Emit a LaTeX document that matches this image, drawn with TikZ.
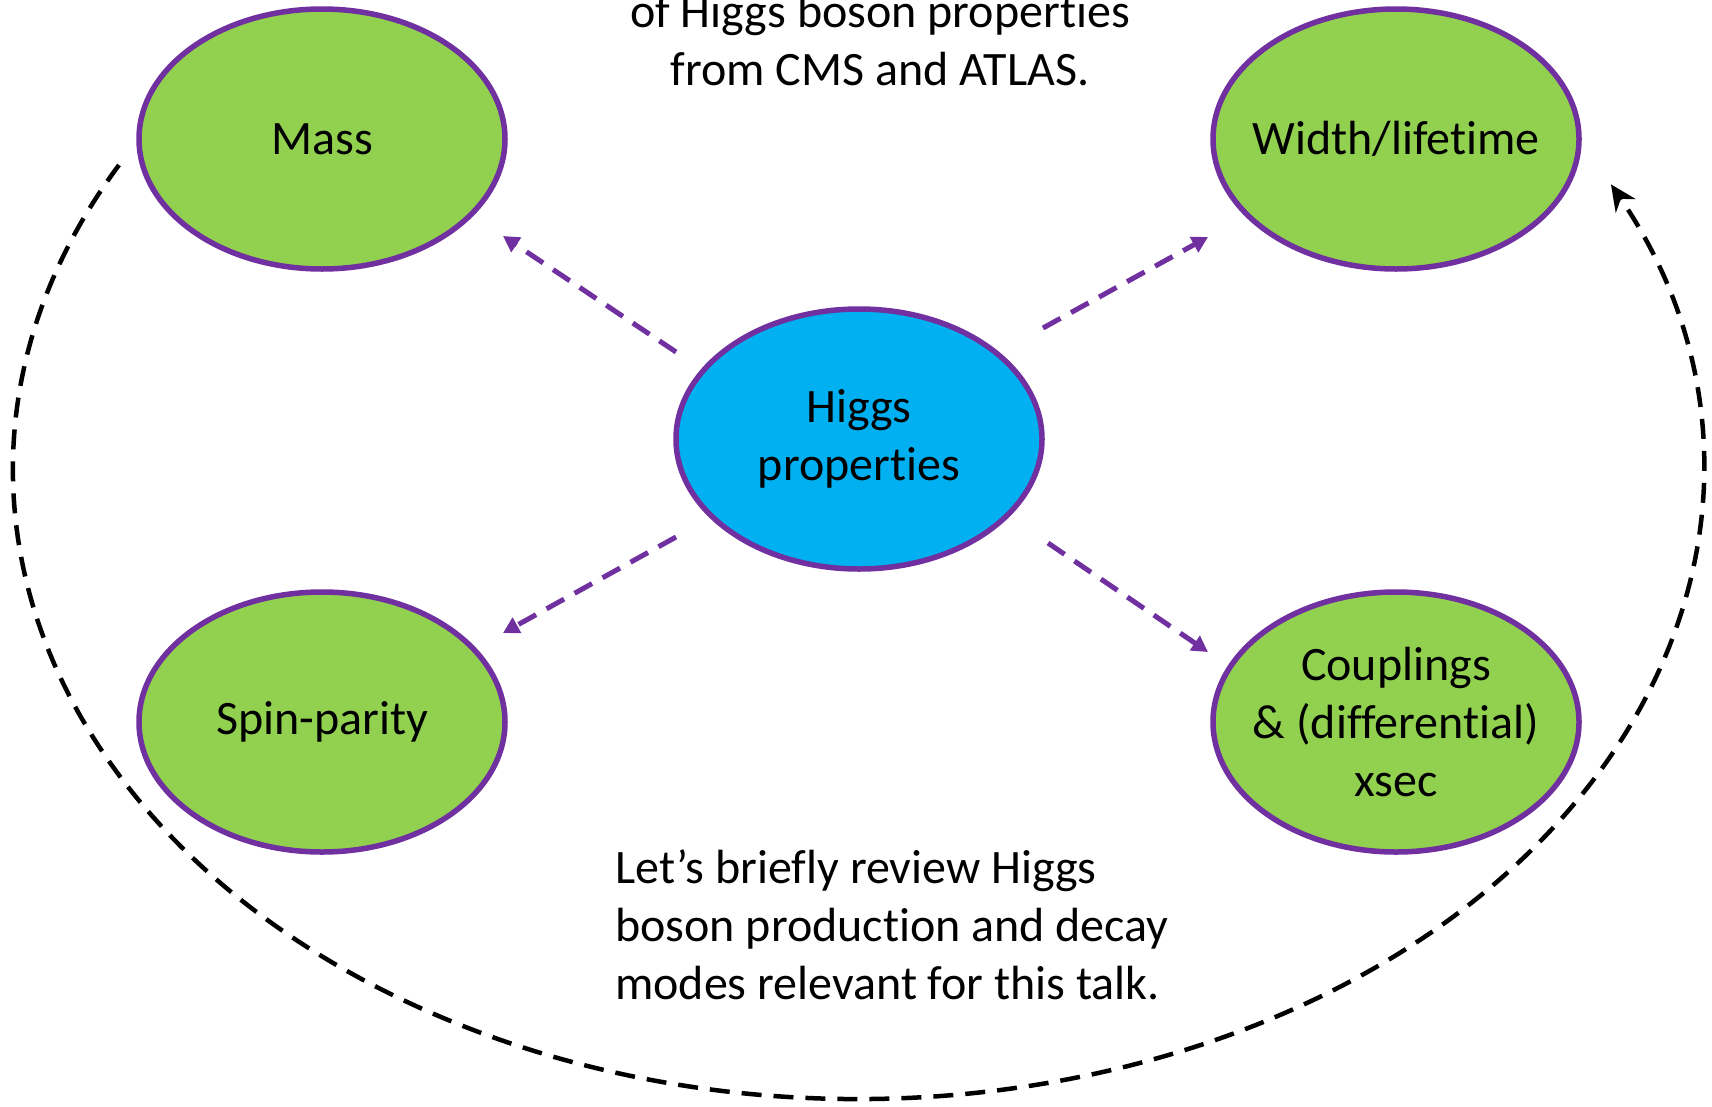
\documentclass[tikz,border=0pt]{standalone}
\usepackage{fontspec}
\setmainfont{Carlito}[RawFeature={-liga;-clig;-calt;-dlig}]
\usetikzlibrary{shapes.geometric,arrows.meta}
\definecolor{purp}{HTML}{7030A0}
\definecolor{grn}{HTML}{92D050}
\definecolor{blu}{HTML}{00B0F0}
\begin{document}
\begin{tikzpicture}[x=1pt,y=-1pt,
  prop/.style={ellipse,draw=purp,line width=5.5pt,minimum width=366pt,minimum height=260pt,
    inner xsep=-80pt,inner ysep=-20pt,align=center,font=\fontsize{48}{58}\selectfont},
  propgreen/.style={prop,fill=grn},
  propblue/.style={prop,fill=blu},
  plabel/.style={inner sep=0pt,font=\fontsize{48}{58}\selectfont},
  purplearrow/.style={draw=purp,line width=5pt,dash pattern=on 20pt off 12pt,
    -{Triangle[length=16pt,width=17pt]}},
  blackarrow/.style={draw=black,line width=4.5pt,dash pattern=on 20pt off 12pt,
    -{Stealth[length=26pt,width=24pt]}}]
\useasboundingbox (0,0) rectangle (1712,1106);
\fill[white] (0,0) rectangle (1712,1106);

\node[propgreen] (mass) at (322,139) {\raisebox{-3pt}{Mass}};
\node[propgreen] (width) at (1396,139) {\raisebox{-3pt}{Width/lifetime}};
\node[propblue] (higgs) at (859,439) {Higgs\\properties};
\node[propgreen] (spin) at (322,722) {\raisebox{-3pt}{Spin-parity}};
\node[propgreen] (coup) at (1396,722) {Couplings\\\&~(differential)\\xsec};

\node[plabel,align=center] (toptext) at (880,40) {of Higgs boson properties\\from CMS and ATLAS.};
\node[plabel,align=left,anchor=west] (bottext) at (615,925) {Let’s briefly review Higgs\\boson production and decay\\modes relevant for this talk.};

\coordinate (hm1) at (676,352); \coordinate (hm2) at (503,236);
\coordinate (hw1) at (1043,328); \coordinate (hw2) at (1208,237);
\coordinate (hs1) at (676,537); \coordinate (hs2) at (503,633);
\coordinate (hc1) at (1048,543); \coordinate (hc2) at (1208,652);
\draw[purplearrow] (hm1) -- (hm2);
\draw[purplearrow] (hw1) -- (hw2);
\draw[purplearrow] (hs1) -- (hs2);
\draw[purplearrow] (hc1) -- (hc2);

\coordinate (cstart) at (119,165);
\draw[blackarrow] (cstart) arc[start angle=151,end angle=387,x radius=845pt,y radius=629pt];
\end{tikzpicture}
\end{document}
